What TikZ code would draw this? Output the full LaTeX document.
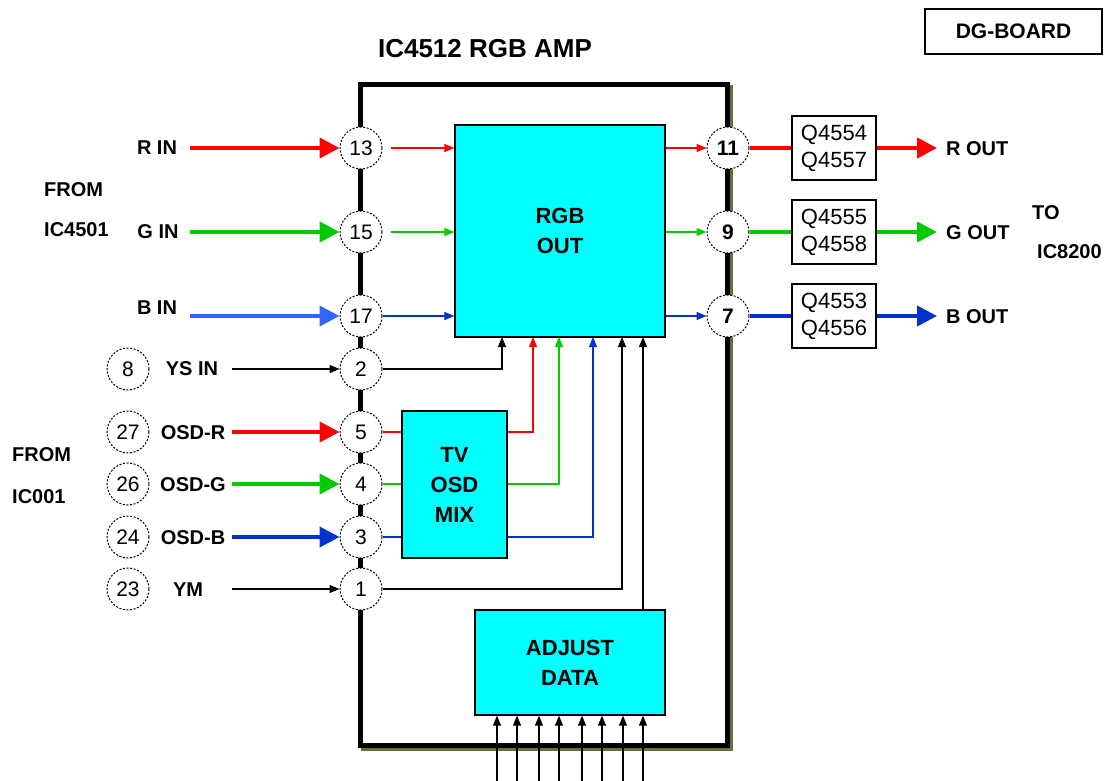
\documentclass[tikz,border=0pt]{standalone}
\usepackage{fontspec}
\setmainfont{Liberation Sans}
\usetikzlibrary{arrows.meta}
\definecolor{cR}{HTML}{FF0000}
\definecolor{cG}{HTML}{00CC00}
\definecolor{cBl}{HTML}{3366FF}
\definecolor{cBd}{HTML}{0033CC}
\definecolor{cyanbox}{HTML}{00FFFF}
\definecolor{olive}{HTML}{6E6C3C}
\tikzset{
  pin/.style={circle,draw,fill=white,line width=1pt,dash pattern=on 2pt off 1.6pt,
    minimum size=42pt,inner sep=0pt,font=\fontsize{21}{21}\selectfont},
  bpin/.style={pin,font=\fontsize{21}{21}\selectfont\bfseries},
  lbl/.style={font=\fontsize{20}{24}\selectfont\bfseries,inner sep=0pt},
  blk/.style={draw,line width=1.3pt,fill=cyanbox,align=center,
    font=\fontsize{22}{30}\selectfont\bfseries},
  qbox/.style={draw,line width=1.3pt,fill=white,minimum width=84pt,minimum height=64pt,
    inner sep=0pt,align=center,font=\fontsize{22}{27}\selectfont},
  big/.style={line width=4pt,-{Triangle[length=20pt,width=20pt]}},
  fat/.style={line width=4pt},
  sm/.style={line width=1.2pt,-{Triangle[length=10pt,width=8pt]}},
  thin/.style={line width=1.2pt},
}
\begin{document}
\begin{tikzpicture}[x=1pt,y=-1pt]
\useasboundingbox (0,0) rectangle (1109,781);
\fill[white] (0,0) rectangle (1109,781);
% DG board
\node[draw,line width=1.3pt,minimum width=177pt,minimum height=45pt,inner sep=0pt,
  font=\fontsize{21}{21}\selectfont\bfseries] (dg) at (1013.5,31.5) {DG-BOARD};
\node[font=\fontsize{26}{26}\selectfont\bfseries,inner sep=0pt] (title) at (485,49) {IC4512 RGB AMP};
% main IC box with shadow
\draw[olive,line width=5pt] (363,88) rectangle (730,748);
\draw[black,line width=5pt,fill=white] (360,85) rectangle (727,745);
% blocks
\node[blk,minimum width=210pt,minimum height=212pt,inner sep=0pt] (rgb) at (560,231) {RGB\\OUT};
\node[blk,minimum width=105pt,minimum height=147pt,inner sep=0pt] (mix) at (454.5,484.5) {TV\\OSD\\MIX};
\node[blk,minimum width=190pt,minimum height=105pt,inner sep=0pt] (adj) at (570,662.5) {ADJUST\\DATA};
% entry points on rgb bottom
\coordinate (b1) at (502,337);
\coordinate (b2) at (533,337);
\coordinate (b3) at (559,337);
\coordinate (b4) at (593,337);
\coordinate (b5) at (622,337);
\coordinate (b6) at (643,337);
% pins left
\node[pin] (p13) at (361,148) {13};
\node[pin] (p15) at (361,232) {15};
\node[pin] (p17) at (361,316) {17};
\node[pin] (p2) at (361,369) {2};
\node[pin] (p5) at (361,432) {5};
\node[pin] (p4) at (361,484) {4};
\node[pin] (p3) at (361,537) {3};
\node[pin] (p1) at (361,589) {1};
% pins right
\node[bpin] (p11) at (728,148) {11};
\node[bpin] (p9) at (728,232) {9};
\node[bpin] (p7) at (728,316) {7};
% external circles
\node[pin] (c8) at (128,369) {8};
\node[pin] (c27) at (128,432) {27};
\node[pin] (c26) at (128,484) {26};
\node[pin] (c24) at (128,537) {24};
\node[pin] (c23) at (128,589) {23};
% labels left
\node[lbl] (rin) at (157,148) {R IN};
\node[lbl] (gin) at (158,232) {G IN};
\node[lbl] (bin) at (157,308) {B IN};
\node[lbl,anchor=west] (from1) at (44,190) {FROM};
\node[lbl,anchor=west] (ic4501) at (44,230) {IC4501};
\node[lbl,anchor=west] (from2) at (12,455) {FROM};
\node[lbl,anchor=west] (ic001) at (12,497) {IC001};
\node[lbl] (ysin) at (192,369) {YS IN};
\node[lbl] (osdr) at (193,433) {OSD-R};
\node[lbl] (osdg) at (193,485) {OSD-G};
\node[lbl] (osdb) at (193,538) {OSD-B};
\node[lbl] (ym) at (188,590) {YM};
% right side
\node[qbox] (q1) at (834,148) {Q4554\\Q4557};
\node[qbox] (q2) at (834,232) {Q4555\\Q4558};
\node[qbox] (q3) at (834,316) {Q4553\\Q4556};
\node[lbl,anchor=west] (rout) at (946,149) {R OUT};
\node[lbl,anchor=west] (gout) at (946,233) {G OUT};
\node[lbl,anchor=west] (bout) at (946,317) {B OUT};
\node[lbl,anchor=west] (to) at (1032,213) {TO};
\node[lbl,anchor=west] (ic8200) at (1037,252) {IC8200};
% input start coordinates
\coordinate (sR) at (190,148);
\coordinate (sG) at (190,232);
\coordinate (sB) at (190,316);
\coordinate (sYS) at (232,369);
\coordinate (sOR) at (232,432);
\coordinate (sOG) at (232,484);
\coordinate (sOB) at (232,537);
\coordinate (sYM) at (232,589);
\coordinate (eR) at (937,148);
\coordinate (eG) at (937,232);
\coordinate (eB) at (937,316);
% input arrows
\draw[big,cR] (sR) -- (p13.west);
\draw[big,cG] (sG) -- (p15.west);
\draw[big,cBl] (sB) -- (p17.west);
\draw[sm] (sYS) -- (p2.west);
\draw[big,cR] (sOR) -- (p5.west);
\draw[big,cG] (sOG) -- (p4.west);
\draw[big,cBd] (sOB) -- (p3.west);
\draw[sm] (sYM) -- (p1.west);
% inner to rgb
\draw[sm,cR] ([xshift=8pt]p13.east) -- (p13.east -| rgb.west);
\draw[sm,cG] ([xshift=8pt]p15.east) -- (p15.east -| rgb.west);
\draw[sm,cBd] (p17.east) -- (p17.east -| rgb.west);
% rgb to right pins
\draw[sm,cR] (p11.west -| rgb.east) -- (p11.west);
\draw[sm,cG] (p9.west -| rgb.east) -- (p9.west);
\draw[sm,cBd] (p7.west -| rgb.east) -- (p7.west);
% pins to transistors
\draw[fat,cR] (p11.east) -- (q1.west);
\draw[fat,cG] (p9.east) -- (q2.west);
\draw[fat,cBd] (p7.east) -- (q3.west);
\draw[big,cR] (q1.east) -- (eR);
\draw[big,cG] (q2.east) -- (eG);
\draw[big,cBd] (q3.east) -- (eB);
% pin 2 and 1 to rgb
\draw[sm] (p2.east) -| (b1);
\draw[sm] (p1.east) -| (b5);
\draw[sm] (adj.north -| b6) -- (b6);
% osd pins to mix
\draw[thin,cR] (p5.east) -- (p5.east -| mix.west);
\draw[thin,cG] (p4.east) -- (p4.east -| mix.west);
\draw[thin,cBd] (p3.east) -- (p3.east -| mix.west);
% mix to rgb
\draw[sm,cR] (p5.east -| mix.east) -| (b2);
\draw[sm,cG] (p4.east -| mix.east) -| (b3);
\draw[sm,cBd] (p3.east -| mix.east) -| (b4);
% adjust inputs
\foreach \x/\n in {497/a1,517/a2,539/a3,559/a4,582/a5,602/a6,623/a7,643/a8}{
  \coordinate (\n) at (\x,781);
  \draw[sm] (\n) -- (adj.south -| \n);
}
\end{tikzpicture}
\end{document}
